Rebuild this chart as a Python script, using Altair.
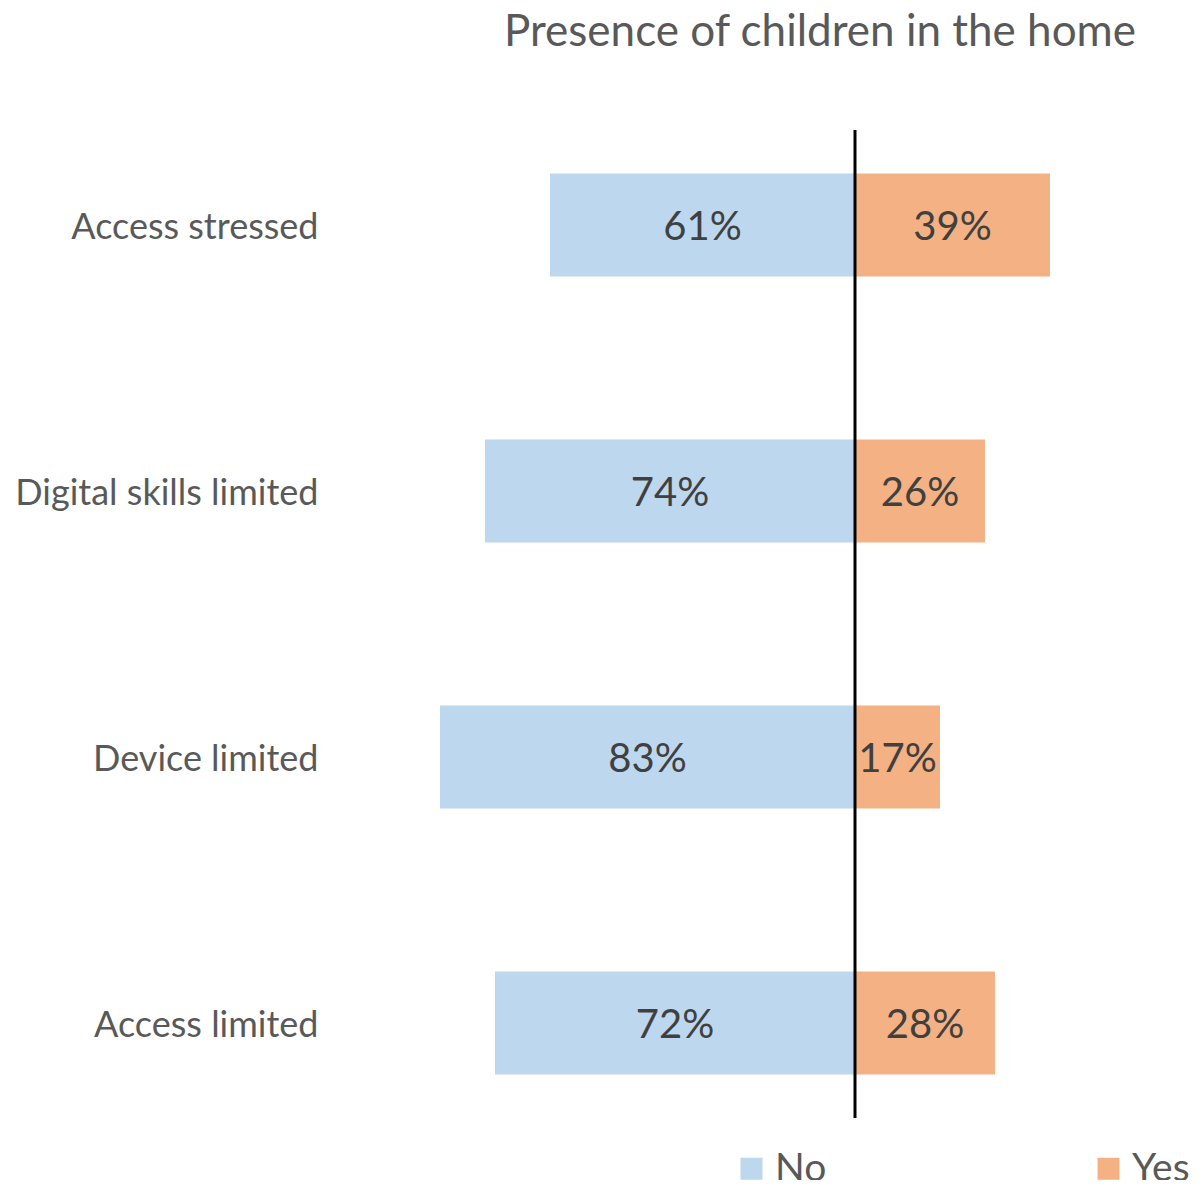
import altair as alt
import pandas as pd

categories = ["Access stressed", "Digital skills limited", "Device limited", "Access limited"]
no_values = [61, 74, 83, 72]
yes_values = [39, 26, 17, 28]
groups = ["No", "Yes"]
colors = ["#BDD7EE", "#F4B183"]

rows = []
for c, n, y in zip(categories, no_values, yes_values):
    rows.append({"category": c, "group": "No", "value": n, "signed": -n})
    rows.append({"category": c, "group": "Yes", "value": y, "signed": y})
df = pd.DataFrame(rows)

FONT = "Lato"

yenc = alt.Y("category:N", sort=categories, title=None,
             scale=alt.Scale(paddingInner=0.613, paddingOuter=0.164),
             axis=alt.Axis(domain=False, ticks=False, labelFontSize=36, labelColor="#595959",
                           labelPadding=37, labelFont=FONT, labelLimit=400, labelOffset=3))

xscale = alt.Scale(domain=[-100, 68], nice=False, zero=False)

bars = alt.Chart(df).mark_bar().encode(
    x=alt.X("signed:Q", scale=xscale, axis=None),
    x2=alt.datum(0),
    y=yenc,
    color=alt.Color("group:N", scale=alt.Scale(domain=groups, range=colors),
                    legend=alt.Legend(title=None, orient="none", legendX=377, legendY=1019,
                                      direction="horizontal", symbolType="square",
                                      symbolSize=484, symbolStrokeWidth=0,
                                      labelFontSize=39, labelFont=FONT, labelColor="#595959",
                                      labelOffset=4, columnPadding=262)),
)

labels = alt.Chart(df).transform_calculate(
    mid="datum.signed / 2", txt="datum.value + '%'"
).mark_text(fontSize=40, font=FONT, color="#404040", dy=3).encode(
    x=alt.X("mid:Q", scale=xscale, axis=None),
    y=alt.Y("category:N", sort=categories),
    text="txt:N",
)

zero_line = alt.Chart(pd.DataFrame({"z": [0]})).mark_rule(color="black", strokeWidth=3).encode(
    x=alt.X("z:Q", scale=xscale, axis=None),
)

chart = alt.layer(bars, labels, zero_line).properties(
    width=840, height=988,
    autosize=alt.AutoSizeParams(type="none"),
    padding={"left": 347, "top": 122, "right": 0, "bottom": 62},
    title=alt.TitleParams("Presence of children in the home", fontSize=44, font=FONT,
                          color="#595959", fontWeight="normal", anchor="middle",
                          dx=45, offset=74),
).configure_view(stroke=None)

chart.save("out.html", embed_options={"renderer": "svg", "actions": False})
